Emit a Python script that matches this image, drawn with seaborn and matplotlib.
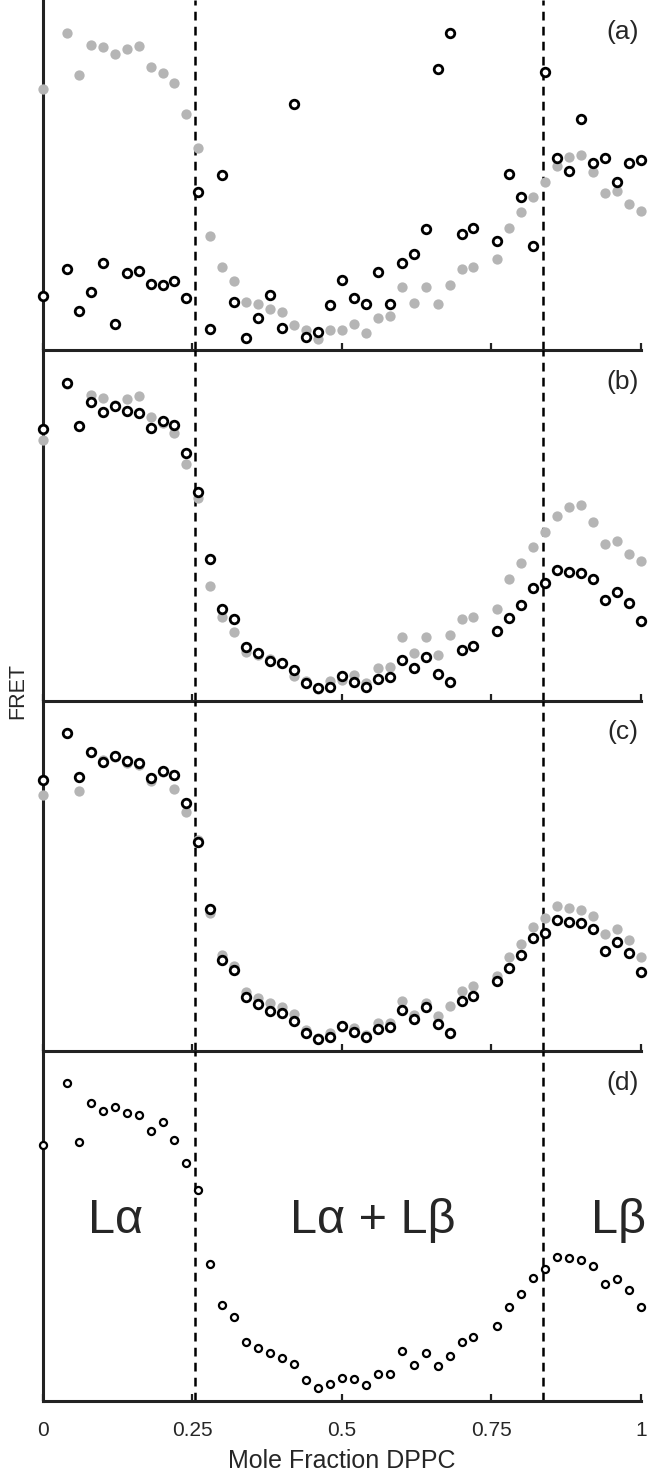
import numpy as np
import pandas as pd
import seaborn as sns
import matplotlib.pyplot as plt

# mole fraction DPPC (no sample at 0.02 and 0.74)
mole_frac = [0.00, 0.04, 0.06, 0.08, 0.10, 0.12, 0.14, 0.16, 0.18, 0.20,
             0.22, 0.24, 0.26, 0.28, 0.30, 0.32, 0.34, 0.36, 0.38, 0.40,
             0.42, 0.44, 0.46, 0.48, 0.50, 0.52, 0.54, 0.56, 0.58, 0.60,
             0.62, 0.64, 0.66, 0.68, 0.70, 0.72,
             0.76, 0.78, 0.80, 0.82, 0.84, 0.86, 0.88, 0.90, 0.92, 0.94, 0.96, 0.98, 1.00]

# measured FRET (grey dots in a, b)
fret_exp = [74.5, 90.5, 78.5, 87.1, 86.5, 84.5, 86.1, 86.9, 81.0, 79.2,
            76.4, 67.5, 57.8, 32.6, 23.8, 19.7, 13.8, 13.1, 11.8, 10.8,
            7.1, 5.7, 3.3, 5.7, 5.9, 7.4, 5.0, 9.3, 9.7, 18.1,
            13.6, 18.1, 13.1, 18.6, 23.3, 23.8,
            26.0, 34.8, 39.4, 43.8, 48.1, 52.7, 55.2, 55.7, 50.9, 44.8, 45.5, 41.9, 39.8]

# model (a)
fret_a = [15.5, 23.2, 11.1, 16.6, 24.8, 7.4, 22.2, 22.7, 18.8, 18.5,
          19.8, 15.0, 45.2, 6.2, 50.0, 13.8, 3.5, 9.2, 15.8, 6.3,
          70.2, 3.8, 5.1, 12.8, 20.0, 15.0, 13.1, 22.4, 13.1, 25.0,
          27.4, 34.7, 80.2, 90.5, 33.3, 34.9,
          31.3, 50.3, 43.8, 29.7, 79.4, 54.9, 51.2, 66.0, 53.6, 54.8, 48.0, 53.6, 54.3]

# model (b), (c)
fret_bc = [77.4, 90.7, 78.3, 85.2, 82.4, 84.2, 82.8, 82.2, 77.9, 79.9,
           78.6, 70.7, 59.6, 40.5, 26.0, 23.2, 15.4, 13.5, 11.3, 10.8,
           8.6, 5.0, 3.5, 3.8, 7.1, 5.4, 3.8, 6.2, 6.7, 11.7,
           9.2, 12.4, 7.6, 5.2, 14.3, 15.7,
           19.8, 23.6, 27.3, 32.1, 33.6, 37.4, 36.7, 36.4, 34.8, 28.6, 31.0, 27.9, 22.6]

# grey in (c), open circles in (d)
fret_cd = [73.0, 90.7, 74.1, 85.2, 82.9, 84.0, 82.2, 81.7, 77.1, 79.7,
           74.6, 68.1, 60.2, 39.2, 27.4, 24.1, 16.9, 15.2, 13.6, 12.4,
           10.5, 6.0, 3.6, 5.0, 6.7, 6.4, 4.5, 7.8, 7.8, 14.3,
           10.2, 13.6, 10.0, 12.9, 17.0, 18.4,
           21.4, 26.9, 30.5, 35.2, 37.8, 41.2, 40.8, 40.3, 38.6, 33.3, 34.8, 31.6, 26.9]

phase_bounds = [0.255, 0.836]
panel_labels = ["(a)", "(b)", "(c)", "(d)"]
grey_series = [fret_exp, fret_exp, fret_cd, None]
black_series = [fret_a, fret_bc, fret_bc, fret_cd]

GREY = "#b5b5b5"

sns.set_style("white")
plt.rcParams['font.family'] = ['Liberation Sans', 'DejaVu Sans']

fig, axes = plt.subplots(4, 1, figsize=(6.54, 14.79), dpi=100, sharex=True,
                         gridspec_kw={'hspace': 0})
fig.subplots_adjust(left=0.0656, right=0.980, top=1.0, bottom=0.0527)

for i, ax in enumerate(axes):
    ax.patch.set_visible(False)  # keep the spine of the panel above fully visible
    small = i == 3
    if grey_series[i] is not None:
        df_g = pd.DataFrame({"mole_frac": mole_frac, "fret": grey_series[i]})
        sns.scatterplot(data=df_g, x="mole_frac", y="fret", ax=ax, color=GREY,
                        s=55, linewidth=0, zorder=3, clip_on=False)
    df_b = pd.DataFrame({"mole_frac": mole_frac, "fret": black_series[i]})
    sns.scatterplot(data=df_b, x="mole_frac", y="fret", ax=ax, color="white",
                    edgecolor="black", s=26 if small else 38,
                    linewidth=1.6 if small else 2.0, zorder=4, clip_on=False)

    for xb in phase_bounds:
        ax.axvline(xb, color="black", lw=1.8, ls=(0, (3.5, 2.5)), zorder=2)

    ax.set_xlim(0, 1)
    ax.set_ylim(0, 100)
    ax.set_yticks([])
    ax.set_ylabel("")
    ax.set_xlabel("")
    for side in ["top", "right"]:
        ax.spines[side].set_visible(False)
    for side in ["left", "bottom"]:
        ax.spines[side].set_linewidth(2.2)
        ax.spines[side].set_color("#222222")
    ax.set_xticks([0, 0.25, 0.5, 0.75, 1])
    ax.set_xticklabels(["0", "0.25", "0.5", "0.75", "1"])
    ax.tick_params(axis="x", bottom=True, direction="in", length=5, width=1.6,
                   labelsize=15, pad=14, color="#222222")
    ax.text(0.969, 0.909, panel_labels[i], transform=ax.transAxes,
            ha="center", va="center", fontsize=19)

axes[3].set_xlabel("Mole Fraction DPPC", fontsize=18, labelpad=7)
fig.text(0.027, 0.533, "FRET", rotation=90, ha="center", va="center", fontsize=15.5)

# phase region labels
axes[3].text(0.122, 0.48, "Lα", transform=axes[3].transAxes,
             ha="center", va="baseline", fontsize=35)
axes[3].text(0.552, 0.48, "Lα + Lβ", transform=axes[3].transAxes,
             ha="center", va="baseline", fontsize=35)
axes[3].text(0.962, 0.48, "Lβ", transform=axes[3].transAxes,
             ha="center", va="baseline", fontsize=35)

plt.savefig("out.png", dpi=100)
